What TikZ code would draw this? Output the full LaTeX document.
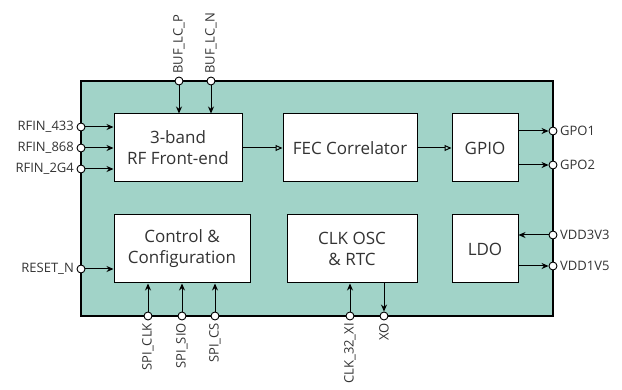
\documentclass[tikz,border=0pt]{standalone}
\usepackage{fontspec}
\setmainfont{Open Sans}
\usetikzlibrary{arrows.meta}
\definecolor{chipfill}{HTML}{A1D3C8}
\definecolor{txt}{HTML}{333333}
\tikzset{
  chip/.style={draw=black, line width=1.2pt, fill=chipfill},
  blk/.style ={draw=black, line width=1pt, fill=white, minimum height=68pt, inner sep=0pt, align=center, font=\fontsize{17}{21}\selectfont, text=txt},
  pad/.style ={circle, draw=black, fill=white, line width=0.9pt, minimum size=8pt, inner sep=0pt},
  sig/.style ={-{Stealth[length=7pt,width=6pt]}, line width=1pt},
  bus/.style ={-{Triangle[open,length=7pt,width=6pt]}, line width=1pt},
  plab/.style={font=\fontsize{13}{15}\selectfont, text=txt, inner sep=2.5pt},
}
\begin{document}
\begin{tikzpicture}[x=1pt,y=-1pt]
        \useasboundingbox (0,0) rectangle (622,390);
        \draw[chip] (81,81) rectangle (553,316);
        % blocks
        \node[blk, minimum width=128pt] (rf)   at (178,148) {3-band\\RF Front-end};
        \node[blk, minimum width=134pt] (fec)  at (350,148) {FEC Correlator};
        \node[blk, minimum width=66pt]  (gpio) at (485,148) {GPIO};
        \node[blk, minimum width=136pt] (ctl)  at (182,249) {Control \&\\Configuration};
        \node[blk, minimum width=130pt] (clk)  at (352,249) {CLK OSC\\\& RTC};
        \node[blk, minimum width=66pt]  (ldo)  at (485,249) {LDO};
        % pads
        \node[pad] (bp)  at (179,81)  {};
        \node[pad] (bn)  at (211,81)  {};
        \node[pad] (r1)  at (81,127)  {};
        \node[pad] (r2)  at (81,148)  {};
        \node[pad] (r3)  at (81,169)  {};
        \node[pad] (rst) at (81,269)  {};
        \node[pad] (g1)  at (553,131) {};
        \node[pad] (g2)  at (553,165) {};
        \node[pad] (v3)  at (553,235) {};
        \node[pad] (v1)  at (553,266) {};
        \node[pad] (sck) at (148,316) {};
        \node[pad] (sio) at (182,316) {};
        \node[pad] (scs) at (215,316) {};
        \node[pad] (xi)  at (350,316) {};
        \node[pad] (xo)  at (384,316) {};
        % pad labels
        \node[plab, rotate=90, anchor=west] at (bp.north) {BUF\_LC\_P};
        \node[plab, rotate=90, anchor=west] at (bn.north) {BUF\_LC\_N};
        \node[plab, left] at (r1.west)  {RFIN\_433};
        \node[plab, left] at (r2.west)  {RFIN\_868};
        \node[plab, left] at (r3.west)  {RFIN\_2G4};
        \node[plab, left] at (rst.west) {RESET\_N};
        \node[plab, right] at (g1.east) {GPO1};
        \node[plab, right] at (g2.east) {GPO2};
        \node[plab, right] at (v3.east) {VDD3V3};
        \node[plab, right] at (v1.east) {VDD1V5};
        \node[plab, rotate=90, anchor=east] at (sck.south) {SPI\_CLK};
        \node[plab, rotate=90, anchor=east] at (sio.south) {SPI\_SIO};
        \node[plab, rotate=90, anchor=east] at (scs.south) {SPI\_CS};
        \node[plab, rotate=90, anchor=east] at (xi.south)  {CLK\_32\_XI};
        \node[plab, rotate=90, anchor=east] at (xo.south)  {XO};
        % connections
        \draw[sig] (bp) -- (bp |- rf.north);
        \draw[sig] (bn) -- (bn |- rf.north);
        \draw[sig] (r1) -- (r1 -| rf.west);
        \draw[sig] (r2) -- (r2 -| rf.west);
        \draw[sig] (r3) -- (r3 -| rf.west);
        \draw[bus] (rf) -- (fec);
        \draw[bus] (fec) -- (gpio);
        \draw[sig] (gpio.east |- g1) -- (g1);
        \draw[sig] (gpio.east |- g2) -- (g2);
        \draw[sig] (rst) -- (rst -| ctl.west);
        \draw[sig] (sck) -- (sck |- ctl.south);
        \draw[sig] (sio) -- (sio |- ctl.south);
        \draw[sig] (scs) -- (scs |- ctl.south);
        \draw[sig] (xi) -- (xi |- clk.south);
        \draw[sig] (clk.south -| xo) -- (xo);
        \draw[sig] (v3) -- (v3 -| ldo.east);
        \draw[sig] (ldo.east |- v1) -- (v1);
      \end{tikzpicture}
\end{document}
